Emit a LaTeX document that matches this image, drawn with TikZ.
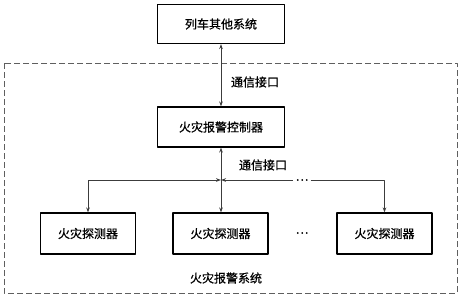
\documentclass[tikz,border=0pt]{standalone}
\usepackage{fontspec}
\usetikzlibrary{arrows.meta}
\newfontfamily\cjk[FakeBold=0.6]{Noto Sans CJK SC}
\definecolor{linegray}{RGB}{60,60,60}
\definecolor{framegray}{RGB}{95,95,95}

\begin{document}
\begin{tikzpicture}[x=1pt, y=-1pt, line join=round, >={Stealth[length=5pt, width=3.6pt]},
    box/.style={draw, line width=1.2pt, minimum width=127pt, minimum height=39pt,
        inner sep=0pt, font=\cjk\fontsize{12}{14}\selectfont},
    detbox/.style={box, minimum width=95pt, minimum height=41pt},
    link/.style={line width=0.85pt, color=linegray},
    lbl/.style={inner sep=0pt, font=\cjk\fontsize{12}{14}\selectfont}]
    \useasboundingbox (0,0) rectangle (464,301);

    % 系统边框
    \draw[framegray, line width=0.9pt, dash pattern=on 6pt off 3pt] (4,63) rectangle (457,293);
    \node[lbl] (sysname) at (226,278) {火灾报警系统};

    % 方框
    \node[box] (other) at (221,24) {列车其他系统};
    \node[box, minimum height=40pt] (ctrl) at (221,127) {火灾报警控制器};
    \node[detbox] (detA) at (88,233.5) {火灾探测器};
    \node[detbox] (detB) at (220.5,233.5) {火灾探测器};
    \node[detbox] (detC) at (384.5,233.5) {火灾探测器};
    \node[lbl] (dotsD) at (302,233) {⋯};

    % 通信接口
    \draw[link, <->] (other.south) -- (ctrl.north);
    \node[lbl] (ifTop) at (255,82) {通信接口};
    \draw[link, <->] (ctrl.south) -- (ctrl.south |- detB.north);
    \node[lbl] (ifLow) at (263,165) {通信接口};

    % 总线
    \coordinate (hub) at (ctrl.south |- 0,180);
    \node[lbl, inner xsep=2pt] (dotsH) at (302,180) {⋯};
    \draw[link, <->] (detA.north) |- (hub);
    \draw[link, <-] (hub) -- (dotsH.west);
    \draw[link, ->] (dotsH.east) -| (detC.north);
\end{tikzpicture}
\end{document}
